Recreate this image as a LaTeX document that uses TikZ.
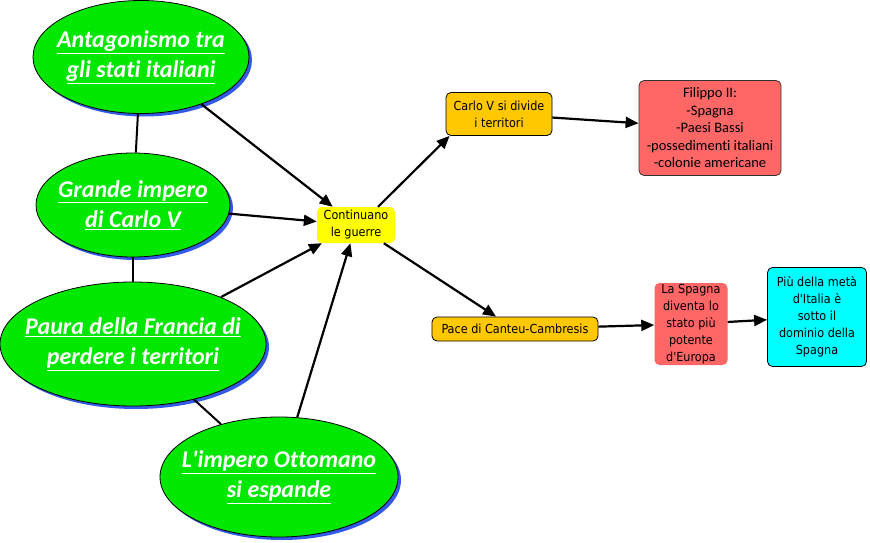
\documentclass[tikz,border=0pt]{standalone}
\usepackage{fontspec}
\setmainfont{Carlito}[Ligatures=NoCommon]
\newfontfamily\boxfont{DejaVu Sans Condensed}
\usetikzlibrary{shapes.geometric,shadows,arrows.meta}
\definecolor{elgreen}{RGB}{0,232,0}
\definecolor{shblue}{RGB}{50,90,230}
\definecolor{boxyellow}{RGB}{255,255,0}
\definecolor{boxorange}{RGB}{255,200,0}
\definecolor{boxred}{RGB}{255,102,102}
\definecolor{boxcyan}{RGB}{0,255,255}
\begin{document}
\begin{tikzpicture}[x=1pt,y=-1pt,
  causa/.style={ellipse,draw=black,line width=0.8pt,fill=elgreen,inner sep=0pt,
    drop shadow={shadow xshift=3pt,shadow yshift=-3pt,fill=shblue,opacity=1}},
  causatext/.style={text=white,align=center,inner sep=0pt,
    font=\fontsize{24}{30}\selectfont\bfseries\itshape},
  rbox/.style={rounded corners=5pt,align=center,text=black,inner sep=3pt,
    font=\boxfont\fontsize{12.5}{17}\selectfont},
  link/.style={line width=2pt,black},
  arr/.style={line width=2.2pt,black,-{Triangle[length=13pt,width=11pt]}}]
\useasboundingbox (0,0) rectangle (870,543);
% causes
\node[causa,minimum width=216pt,minimum height=113pt] (e1) at (141,57) {};
\node[causatext] (e1t) at (e1.center)
  {\underline{Antagonismo tra}\\\underline{gli stati italiani}};
\node[causa,minimum width=194pt,minimum height=104pt] (e2) at (133,205) {};
\node[causatext] (e2t) at (e2.center)
  {\underline{Grande impero}\\\underline{di Carlo V}};
\node[causa,minimum width=266pt,minimum height=124pt] (e3) at (133,344) {};
\node[causatext] (e3t) at (e3.center)
  {\underline{Paura della Francia di}\\\underline{perdere i territori}};
\node[causa,minimum width=238pt,minimum height=120pt] (e4) at (279,477) {};
\node[causatext] (e4t) at (e4.center)
  {\underline{L\textquotesingle impero Ottomano}\\\underline{si espande}};
% boxes
\node[rbox,fill=boxyellow,minimum width=78pt,minimum height=36pt] (cont) at (356,225)
  {Continuano\\le guerre};
\node[rbox,fill=boxorange,draw=black,line width=0.8pt,minimum width=106pt,minimum height=43pt] (carlo) at (499,114)
  {Carlo V si divide\\i territori};
\node[rbox,fill=boxred,draw=black!80,line width=0.8pt,minimum width=142pt,minimum height=95pt,
  font=\fontsize{14.5}{17.5}\selectfont] (fil) at (710,128)
  {Filippo II:\\-Spagna\\-Paesi Bassi\\-possedimenti italiani\\-colonie americane};
\node[rbox,fill=boxorange,draw=black,line width=0.8pt,minimum width=166pt,minimum height=24pt] (pace) at (515,329)
  {Pace di Canteu-Cambresis};
\node[rbox,fill=boxred,minimum width=73pt,minimum height=82pt,inner sep=1pt] (spa) at (691,324)
  {La Spagna\\diventa lo\\stato più\\potente\\d\textquotesingle Europa};
\node[rbox,fill=boxcyan,draw=black,line width=0.8pt,minimum width=99pt,minimum height=99pt,inner sep=1pt] (piu) at (817,317)
  {Più della metà\\d\textquotesingle Italia è\\sotto il\\dominio della\\Spagna};
% links
\draw[link] (e1) -- (e2);
\draw[link] (e2) -- (e3);
\draw[link] (e3) -- (e4);
\draw[arr] (e1) -- (cont);
\draw[arr] (e2) -- (cont);
\draw[arr] (e3) -- (cont);
\draw[arr] (e4) -- (cont);
\draw[arr] ([xshift=22pt]cont.north) -- ([xshift=4pt]carlo.south west);
\draw[arr] (carlo) -- (fil);
\draw[arr] (cont) -- (pace);
\draw[arr] (pace) -- (spa);
\draw[arr] (spa) -- (piu);
\end{tikzpicture}
\end{document}
